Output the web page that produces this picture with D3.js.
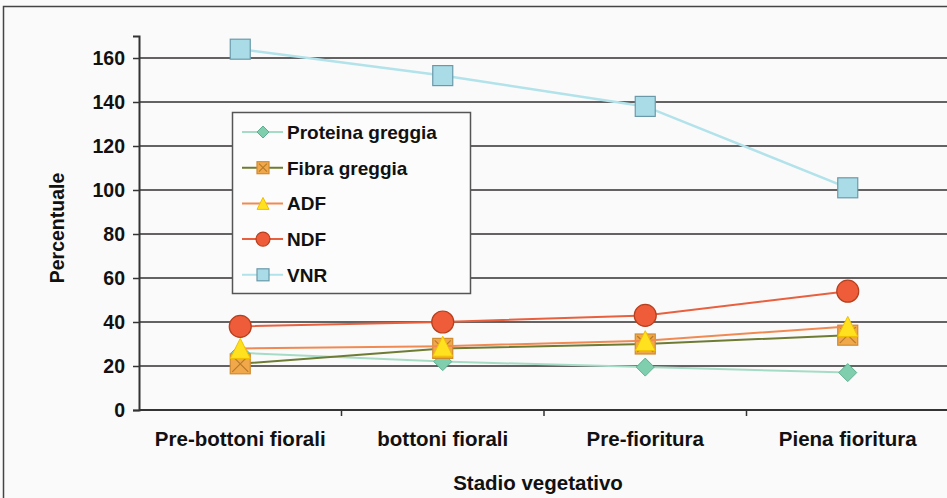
<!DOCTYPE html>
<html>
<head>
    <meta charset="UTF-8">
    <title>Stadio vegetativo</title>
    <style>
        body {
            margin: 0;
            overflow: hidden;
            background-color: #fafafa;
        }
        text {
            font-family: "Liberation Sans", Arial, sans-serif;
            font-weight: bold;
            fill: #111;
        }
    </style>
    <script src="https://cdn.jsdelivr.net/npm/d3@7"></script>
</head>
<body>
    <script>
        // dati
        const categories = ["Pre-bottoni fiorali", "bottoni fiorali", "Pre-fioritura", "Piena fioritura"];
        const seriesNames = ["Proteina greggia", "Fibra greggia", "ADF", "NDF", "VNR"];
        const proteina = [26, 22, 19.5, 17];
        const fibra = [21, 28, 30, 34];
        const adf = [28, 29, 31.5, 38];
        const ndf = [38, 40, 43, 54];
        const vnr = [164, 152, 138, 101];
        const yTicks = [0, 20, 40, 60, 80, 100, 120, 140, 160];

        const width = 947;
        const height = 498;
        const svg = d3.select('body')
            .append('svg')
            .attr('width', width)
            .attr('height', height);

        // stile per serie
        const styles = {
            "Proteina greggia": {line: "#a6dcc6", fill: "#7fcfae", stroke: "#5fae90", shape: "diamond"},
            "Fibra greggia": {line: "#6e7b32", fill: "#f0a84a", stroke: "#d08a30", shape: "xbox"},
            "ADF": {line: "#f08a52", fill: "#ffe11f", stroke: "#efbf00", shape: "triangle"},
            "NDF": {line: "#e8603e", fill: "#ee5c3a", stroke: "#b5401f", shape: "circle"},
            "VNR": {line: "#b2e2ea", fill: "#a9dce6", stroke: "#6a9aaa", shape: "square"}
        };
        const data = [proteina, fibra, adf, ndf, vnr];

        const x = d3.scaleBand()
            .domain(categories)
            .range([139, 949]);
        const xc = d => x(d) + x.bandwidth() / 2;

        const y = d3.scaleLinear()
            .domain([0, 170])
            .range([410, 36]);

        // cornice esterna (tagliata a destra e in basso)
        svg.append('path')
            .attr('d', `M3.5,${height} L3.5,6.5 L${width},6.5`)
            .attr('fill', 'none')
            .attr('stroke', '#444')
            .attr('stroke-width', 1.5);

        // griglia
        svg.selectAll('.grid')
            .data(yTicks.filter(d => d > 0))
            .join('line')
            .attr('class', 'grid')
            .attr('x1', 139)
            .attr('x2', width)
            .attr('y1', d => y(d))
            .attr('y2', d => y(d))
            .attr('stroke', '#646262')
            .attr('stroke-width', 2);

        // asse Y
        const yAxis = svg.append('g')
            .attr('transform', 'translate(139,0)')
            .call(d3.axisLeft(y).tickValues(yTicks).tickSize(6).tickPadding(8));
        yAxis.select('.domain').attr('stroke', '#333').attr('stroke-width', 2);
        yAxis.selectAll('.tick line').attr('stroke', '#333').attr('stroke-width', 1.5);
        yAxis.selectAll('.tick text')
            .style('font-size', '19.5px')
            .style('font-family', '"Liberation Sans", Arial, sans-serif')
            .style('font-weight', 'bold')
            .attr('fill', '#111');

        // asse X (tacche ai bordi delle categorie)
        svg.append('line')
            .attr('x1', 139).attr('x2', width)
            .attr('y1', y(0)).attr('y2', y(0))
            .attr('stroke', '#333').attr('stroke-width', 2);
        svg.selectAll('.xtick')
            .data(categories.slice(1).concat(['end']))
            .join('line')
            .attr('class', 'xtick')
            .attr('x1', (d, i) => i < 3 ? x(d) : x(categories[3]) + x.bandwidth())
            .attr('x2', (d, i) => i < 3 ? x(d) : x(categories[3]) + x.bandwidth())
            .attr('y1', y(0))
            .attr('y2', y(0) + 6)
            .attr('stroke', '#333').attr('stroke-width', 1.5);
        svg.selectAll('.xlabel')
            .data(categories)
            .join('text')
            .attr('class', 'xlabel')
            .attr('x', d => xc(d))
            .attr('y', 446)
            .attr('text-anchor', 'middle')
            .style('font-size', '20.5px')
            .text(d => d);

        // titoli assi
        svg.append('text')
            .attr('x', 538)
            .attr('y', 490)
            .attr('text-anchor', 'middle')
            .style('font-size', '20.5px')
            .text('Stadio vegetativo');
        svg.append('text')
            .attr('transform', 'translate(64,228) rotate(-90)')
            .attr('text-anchor', 'middle')
            .style('font-size', '19.5px')
            .text('Percentuale');

        // simboli
        const drawMarker = (g, cx, cy, st, s) => {
            if (st.shape === 'circle') {
                g.append('circle').attr('cx', cx).attr('cy', cy).attr('r', s / 2)
                    .attr('fill', st.fill).attr('stroke', st.stroke).attr('stroke-width', 1.2);
            } else if (st.shape === 'square' || st.shape === 'xbox') {
                g.append('rect').attr('x', cx - s / 2).attr('y', cy - s / 2)
                    .attr('width', s).attr('height', s)
                    .attr('fill', st.fill).attr('stroke', st.stroke).attr('stroke-width', 1.2);
                if (st.shape === 'xbox') {
                    const h = s / 2 - 2;
                    g.append('path')
                        .attr('d', `M${cx - h},${cy - h}L${cx + h},${cy + h}M${cx + h},${cy - h}L${cx - h},${cy + h}`)
                        .attr('stroke', '#b87a28').attr('stroke-width', 1.2);
                }
            } else if (st.shape === 'triangle') {
                const h = s / 2;
                g.append('path')
                    .attr('d', `M${cx},${cy - h}L${cx + h},${cy + h}L${cx - h},${cy + h}Z`)
                    .attr('fill', st.fill).attr('stroke', st.stroke).attr('stroke-width', 1);
            } else if (st.shape === 'diamond') {
                const h = s / 2;
                g.append('path')
                    .attr('d', `M${cx},${cy - h}L${cx + h},${cy}L${cx},${cy + h}L${cx - h},${cy}Z`)
                    .attr('fill', st.fill).attr('stroke', st.stroke).attr('stroke-width', 1);
            }
        };

        const line = d3.line()
            .x((d, i) => xc(categories[i]))
            .y(d => y(d));

        seriesNames.forEach((name, k) => {
            const st = styles[name];
            const g = svg.append('g');
            g.append('path')
                .datum(data[k])
                .attr('d', line)
                .attr('fill', 'none')
                .attr('stroke', st.line)
                .attr('stroke-width', name === 'VNR' ? 2.5 : 2);
            const size = {circle: 22, square: 20, xbox: 20, triangle: 20, diamond: 18}[st.shape];
            data[k].forEach((v, i) => drawMarker(g, xc(categories[i]), y(v), st, size));
        });

        // legenda
        const leg = svg.append('g');
        leg.append('rect')
            .attr('x', 232.5).attr('y', 112.5)
            .attr('width', 238).attr('height', 181)
            .attr('fill', '#fcfcfc')
            .attr('stroke', '#555').attr('stroke-width', 1.5);
        seriesNames.forEach((name, i) => {
            const st = styles[name];
            const ly = 132 + i * 35.7;
            leg.append('line')
                .attr('x1', 242).attr('x2', 283)
                .attr('y1', ly).attr('y2', ly)
                .attr('stroke', st.line).attr('stroke-width', 2);
            drawMarker(leg, 263, ly, st, st.shape === 'circle' ? 14 : 12);
            leg.append('text')
                .attr('x', 287)
                .attr('y', ly + 7)
                .style('font-size', '19px')
                .text(name);
        });
    </script>
</body>
</html>
